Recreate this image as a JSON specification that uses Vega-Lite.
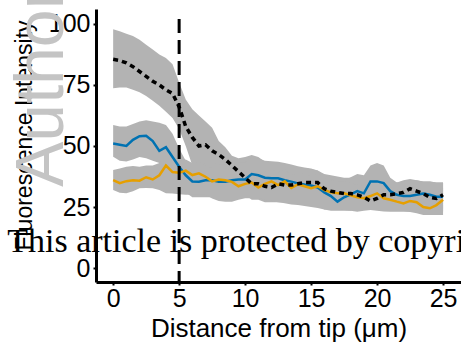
{
  "$schema": "https://vega.github.io/schema/vega-lite/v6.json",
  "width": 365,
  "height": 273,
  "autosize": "none",
  "padding": {"left": 96, "top": 9, "right": 0, "bottom": 61},
  "background": "white",
  "config": {
    "view": {"stroke": null},
    "axis": {
      "grid": false,
      "domainColor": "black",
      "domainWidth": 3,
      "tickColor": "black",
      "tickWidth": 2,
      "tickSize": 3,
      "labelColor": "black",
      "labelFont": "Liberation Sans",
      "labelFontSize": 25,
      "titleFont": "Liberation Sans",
      "titleColor": "black",
      "titleFontWeight": "normal",
      "labelFlush": false,
      "labelOverlap": false,
      "zindex": 1
    },
    "axisX": {
      "labelPadding": 1,
      "titleFontSize": 26,
      "titleBaseline": "alphabetic",
      "titleY": 54
    },
    "axisY": {
      "labelPadding": 3,
      "titleFontSize": 23,
      "titleBaseline": "alphabetic",
      "titleAngle": 270,
      "titleX": -65,
      "titleY": 126
    }
  },
  "datasets": {
    "d": [
      {"s":"k","x":0,"m":85.5,"lo":73.6,"hi":97.8},
      {"s":"k","x":0.5,"m":85,"lo":74,"hi":97},
      {"s":"k","x":1,"m":84,"lo":74,"hi":96},
      {"s":"k","x":1.5,"m":82.5,"lo":73,"hi":95},
      {"s":"k","x":2,"m":80.5,"lo":72,"hi":93.5},
      {"s":"k","x":2.5,"m":78.5,"lo":70.5,"hi":91.5},
      {"s":"k","x":3,"m":76.5,"lo":68.5,"hi":89.5},
      {"s":"k","x":3.5,"m":75,"lo":66.5,"hi":87.5},
      {"s":"k","x":4,"m":73,"lo":64,"hi":86},
      {"s":"k","x":4.5,"m":71.5,"lo":61.5,"hi":83.5},
      {"s":"k","x":5,"m":66,"lo":57,"hi":76},
      {"s":"k","x":5.5,"m":58,"lo":50,"hi":69},
      {"s":"k","x":6,"m":53.5,"lo":42,"hi":65},
      {"s":"k","x":6.5,"m":50,"lo":41,"hi":62.5},
      {"s":"k","x":7,"m":50.5,"lo":41,"hi":60},
      {"s":"k","x":7.5,"m":48,"lo":39,"hi":57.5},
      {"s":"k","x":8,"m":46.5,"lo":38,"hi":52},
      {"s":"k","x":8.5,"m":44.5,"lo":36,"hi":49.5},
      {"s":"k","x":9,"m":42,"lo":34,"hi":46},
      {"s":"k","x":9.5,"m":39.5,"lo":32,"hi":45},
      {"s":"k","x":10,"m":37,"lo":30,"hi":45.5},
      {"s":"k","x":10.5,"m":34.5,"lo":28,"hi":46.3},
      {"s":"k","x":11,"m":34.5,"lo":28,"hi":45.5},
      {"s":"k","x":11.5,"m":33.5,"lo":27,"hi":43.5},
      {"s":"k","x":12,"m":33,"lo":27,"hi":43},
      {"s":"k","x":12.5,"m":34.5,"lo":27,"hi":42.5},
      {"s":"k","x":13,"m":34,"lo":27,"hi":42},
      {"s":"k","x":13.5,"m":34,"lo":27,"hi":41.5},
      {"s":"k","x":14,"m":34.5,"lo":27,"hi":41},
      {"s":"k","x":14.5,"m":35,"lo":27,"hi":41},
      {"s":"k","x":15,"m":35,"lo":27,"hi":40.5},
      {"s":"k","x":15.5,"m":35,"lo":27,"hi":40},
      {"s":"k","x":16,"m":32.5,"lo":26,"hi":38.5},
      {"s":"k","x":16.5,"m":31.5,"lo":25,"hi":38},
      {"s":"k","x":17,"m":31,"lo":25,"hi":37.5},
      {"s":"k","x":17.5,"m":30.5,"lo":25,"hi":37},
      {"s":"k","x":18,"m":30.5,"lo":24,"hi":37},
      {"s":"k","x":18.5,"m":30,"lo":24,"hi":37},
      {"s":"k","x":19,"m":29,"lo":24,"hi":36},
      {"s":"k","x":19.5,"m":27.5,"lo":24,"hi":35.5},
      {"s":"k","x":20,"m":28.5,"lo":24,"hi":36},
      {"s":"k","x":20.5,"m":30,"lo":24,"hi":36.5},
      {"s":"k","x":21,"m":30,"lo":24,"hi":36},
      {"s":"k","x":21.5,"m":30.5,"lo":24,"hi":35},
      {"s":"k","x":22,"m":31,"lo":24,"hi":36},
      {"s":"k","x":22.5,"m":32.5,"lo":24,"hi":36.5},
      {"s":"k","x":23,"m":31.5,"lo":24,"hi":36},
      {"s":"k","x":23.5,"m":30.5,"lo":24,"hi":35.5},
      {"s":"k","x":24,"m":29,"lo":23,"hi":35.5},
      {"s":"k","x":24.5,"m":28.5,"lo":23,"hi":35},
      {"s":"k","x":25,"m":30,"lo":23,"hi":35},

      {"s":"b","x":0,"m":51,"lo":45.6,"hi":58.6},
      {"s":"b","x":0.5,"m":50.5,"lo":44,"hi":58},
      {"s":"b","x":1,"m":50,"lo":43.6,"hi":58},
      {"s":"b","x":1.5,"m":52.5,"lo":44.5,"hi":59},
      {"s":"b","x":2,"m":54,"lo":45.5,"hi":60},
      {"s":"b","x":2.5,"m":54.2,"lo":45,"hi":60.5},
      {"s":"b","x":3,"m":52,"lo":44,"hi":60},
      {"s":"b","x":3.5,"m":48,"lo":43,"hi":59.5},
      {"s":"b","x":4,"m":49.5,"lo":41,"hi":58.6},
      {"s":"b","x":4.5,"m":45.5,"lo":39,"hi":55},
      {"s":"b","x":5,"m":41.5,"lo":35,"hi":49},
      {"s":"b","x":5.5,"m":38,"lo":31,"hi":44},
      {"s":"b","x":6,"m":35.5,"lo":29,"hi":42},
      {"s":"b","x":6.5,"m":35.4,"lo":29,"hi":42},
      {"s":"b","x":7,"m":36,"lo":29,"hi":43},
      {"s":"b","x":7.5,"m":36,"lo":29,"hi":43},
      {"s":"b","x":8,"m":35.4,"lo":28.5,"hi":42.5},
      {"s":"b","x":8.5,"m":35.4,"lo":28.5,"hi":42.5},
      {"s":"b","x":9,"m":36,"lo":29,"hi":43},
      {"s":"b","x":9.5,"m":36.3,"lo":29.3,"hi":43.3},
      {"s":"b","x":10,"m":36.3,"lo":29.3,"hi":43.3},
      {"s":"b","x":10.5,"m":38.5,"lo":31.5,"hi":45.5},
      {"s":"b","x":11,"m":38,"lo":31,"hi":45},
      {"s":"b","x":11.5,"m":37,"lo":30,"hi":44},
      {"s":"b","x":12,"m":36.8,"lo":30,"hi":43.8},
      {"s":"b","x":12.5,"m":36.8,"lo":30,"hi":43.5},
      {"s":"b","x":13,"m":36,"lo":29,"hi":43},
      {"s":"b","x":13.5,"m":35.4,"lo":28.5,"hi":42.4},
      {"s":"b","x":14,"m":34.7,"lo":28,"hi":41.7},
      {"s":"b","x":14.5,"m":34.2,"lo":27.5,"hi":41.2},
      {"s":"b","x":15,"m":33.8,"lo":27,"hi":40.8},
      {"s":"b","x":15.5,"m":33,"lo":26,"hi":40},
      {"s":"b","x":16,"m":31,"lo":24,"hi":38},
      {"s":"b","x":16.5,"m":29.5,"lo":23.5,"hi":36.5},
      {"s":"b","x":17,"m":27.2,"lo":23.5,"hi":35},
      {"s":"b","x":17.5,"m":29,"lo":23.5,"hi":36},
      {"s":"b","x":18,"m":30.2,"lo":23.5,"hi":37.2},
      {"s":"b","x":18.5,"m":31.5,"lo":24.5,"hi":38.5},
      {"s":"b","x":19,"m":30.6,"lo":24,"hi":38},
      {"s":"b","x":19.5,"m":35.5,"lo":28.5,"hi":42},
      {"s":"b","x":20,"m":35.5,"lo":28.5,"hi":43},
      {"s":"b","x":20.5,"m":34.8,"lo":28,"hi":42},
      {"s":"b","x":21,"m":31.5,"lo":25,"hi":37},
      {"s":"b","x":21.5,"m":30,"lo":24,"hi":35},
      {"s":"b","x":22,"m":29.5,"lo":23.5,"hi":35.5},
      {"s":"b","x":22.5,"m":29.5,"lo":23.5,"hi":36},
      {"s":"b","x":23,"m":30,"lo":24,"hi":36},
      {"s":"b","x":23.5,"m":30.5,"lo":24.5,"hi":35.5},
      {"s":"b","x":24,"m":30,"lo":24,"hi":35.5},
      {"s":"b","x":24.5,"m":29.2,"lo":23.5,"hi":35},
      {"s":"b","x":25,"m":29.2,"lo":23.5,"hi":35},

      {"s":"y","x":0,"m":36,"lo":32,"hi":40.2},
      {"s":"y","x":0.5,"m":34.8,"lo":30.8,"hi":40.8},
      {"s":"y","x":1,"m":35.6,"lo":30.6,"hi":41.5},
      {"s":"y","x":1.5,"m":36,"lo":31.5,"hi":41.8},
      {"s":"y","x":2,"m":35.8,"lo":32.7,"hi":41.5},
      {"s":"y","x":2.5,"m":37.2,"lo":32.8,"hi":42},
      {"s":"y","x":3,"m":36.3,"lo":32.7,"hi":42},
      {"s":"y","x":3.5,"m":38,"lo":32,"hi":43},
      {"s":"y","x":4,"m":42,"lo":30.6,"hi":46},
      {"s":"y","x":4.5,"m":39.3,"lo":30.5,"hi":44},
      {"s":"y","x":5,"m":39,"lo":30.2,"hi":44},
      {"s":"y","x":5.5,"m":39.9,"lo":30,"hi":44.5},
      {"s":"y","x":6,"m":38.1,"lo":30,"hi":43},
      {"s":"y","x":6.5,"m":38.8,"lo":30,"hi":43.5},
      {"s":"y","x":7,"m":37.4,"lo":30,"hi":42},
      {"s":"y","x":7.5,"m":35.5,"lo":28.5,"hi":41},
      {"s":"y","x":8,"m":36.3,"lo":27.5,"hi":41},
      {"s":"y","x":8.5,"m":36,"lo":27.2,"hi":41},
      {"s":"y","x":9,"m":35.3,"lo":27.2,"hi":40},
      {"s":"y","x":9.5,"m":33.5,"lo":28,"hi":39},
      {"s":"y","x":10,"m":34.5,"lo":28.6,"hi":39.5},
      {"s":"y","x":10.5,"m":35,"lo":28.6,"hi":40},
      {"s":"y","x":11,"m":33,"lo":28.6,"hi":38},
      {"s":"y","x":11.5,"m":34.5,"lo":28,"hi":39.5},
      {"s":"y","x":12,"m":35.5,"lo":27.5,"hi":40.5},
      {"s":"y","x":12.5,"m":34,"lo":27,"hi":39},
      {"s":"y","x":13,"m":35.5,"lo":26.5,"hi":40.5},
      {"s":"y","x":13.5,"m":32.8,"lo":26,"hi":38},
      {"s":"y","x":14,"m":34.3,"lo":25.8,"hi":39},
      {"s":"y","x":14.5,"m":33.5,"lo":25.4,"hi":38.5},
      {"s":"y","x":15,"m":32.7,"lo":25,"hi":37.7},
      {"s":"y","x":15.5,"m":33.5,"lo":24.6,"hi":38.5},
      {"s":"y","x":16,"m":32,"lo":24,"hi":37},
      {"s":"y","x":16.5,"m":31,"lo":24,"hi":36},
      {"s":"y","x":17,"m":30.6,"lo":24,"hi":35.6},
      {"s":"y","x":17.5,"m":30.6,"lo":23.8,"hi":35.6},
      {"s":"y","x":18,"m":29.8,"lo":23.5,"hi":35},
      {"s":"y","x":18.5,"m":29,"lo":23.1,"hi":34},
      {"s":"y","x":19,"m":28.6,"lo":23.5,"hi":33.6},
      {"s":"y","x":19.5,"m":29.5,"lo":23.8,"hi":34.5},
      {"s":"y","x":20,"m":30.6,"lo":23.5,"hi":35.6},
      {"s":"y","x":20.5,"m":28.6,"lo":23.2,"hi":33.6},
      {"s":"y","x":21,"m":28,"lo":23.1,"hi":33},
      {"s":"y","x":21.5,"m":27.2,"lo":23.1,"hi":32.2},
      {"s":"y","x":22,"m":26.5,"lo":23.1,"hi":31.5},
      {"s":"y","x":22.5,"m":27.5,"lo":23,"hi":32.5},
      {"s":"y","x":23,"m":27,"lo":22.5,"hi":32},
      {"s":"y","x":23.5,"m":25,"lo":21.7,"hi":30},
      {"s":"y","x":24,"m":24.5,"lo":21.7,"hi":29.5},
      {"s":"y","x":24.5,"m":25.8,"lo":21.7,"hi":30.8},
      {"s":"y","x":25,"m":28,"lo":21.7,"hi":33}
    ]
  },
  "data": {"name": "d"},
  "layer": [
    {
      "mark": {"type": "text", "text": "Author Manuscript", "angle": 270, "align": "left", "baseline": "alphabetic", "font": "Liberation Sans", "fontSize": 68, "color": "#c4c4c4"},
      "encoding": {
        "x": {"datum": -3.79, "type": "quantitative"},
        "y": {"datum": 33.2, "type": "quantitative"}
      },
      "data": {"values": [{}]}
    },
    {
      "mark": {"type": "area", "color": "#b3b3b3", "opacity": 1, "interpolate": "linear"},
      "encoding": {
        "x": {
          "field": "x", "type": "quantitative",
          "scale": {"domain": [-1.3, 26.36], "nice": false, "zero": false},
          "axis": {"title": "Distance from tip (μm)", "values": [0, 5, 10, 15, 20, 25]}
        },
        "y": {
          "field": "lo", "type": "quantitative",
          "scale": {"domain": [-5.7, 106.1], "nice": false, "zero": false},
          "axis": {"title": "Fluorescence Intensity", "values": [0, 25, 50, 75, 100]}
        },
        "y2": {"field": "hi"},
        "detail": {"field": "s"}
      }
    },
    {
      "transform": [{"filter": "datum.s === 'b'"}],
      "mark": {"type": "line", "color": "#0072B2", "strokeWidth": 2.5},
      "encoding": {
        "x": {"field": "x", "type": "quantitative", "title": "Distance from tip (μm)"},
        "y": {"field": "m", "type": "quantitative", "title": "Fluorescence Intensity"}
      }
    },
    {
      "transform": [{"filter": "datum.s === 'y'"}],
      "mark": {"type": "line", "color": "#E69F00", "strokeWidth": 2.5},
      "encoding": {
        "x": {"field": "x", "type": "quantitative", "title": "Distance from tip (μm)"},
        "y": {"field": "m", "type": "quantitative", "title": "Fluorescence Intensity"}
      }
    },
    {
      "transform": [{"filter": "datum.s === 'k'"}],
      "mark": {"type": "line", "color": "black", "strokeWidth": 3.5, "strokeDash": [5, 4]},
      "encoding": {
        "x": {"field": "x", "type": "quantitative", "title": "Distance from tip (μm)"},
        "y": {"field": "m", "type": "quantitative", "title": "Fluorescence Intensity"}
      }
    },
    {
      "mark": {"type": "rule", "color": "black", "strokeWidth": 3, "strokeDash": [14, 7]},
      "encoding": {
        "x": {"datum": 5, "type": "quantitative"},
        "y": {"datum": 102, "type": "quantitative"},
        "y2": {"datum": -5.7}
      },
      "data": {"values": [{}]}
    },
    {
      "mark": {"type": "text", "text": "This article is protected by copyright. All rights reserved", "align": "left", "baseline": "alphabetic", "font": "Liberation Serif", "fontSize": 34, "color": "black"},
      "encoding": {
        "x": {"datum": -8.03, "type": "quantitative"},
        "y": {"datum": 6.56, "type": "quantitative"}
      },
      "data": {"values": [{}]}
    }
  ]
}
